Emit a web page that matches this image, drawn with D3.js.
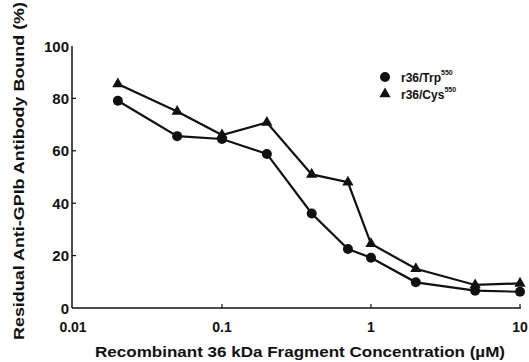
<!DOCTYPE html>
<html><head><meta charset="utf-8">
<script src="https://cdn.jsdelivr.net/npm/d3@7"></script>
<style>body{margin:0;background:#fff}svg{display:block}text{font-family:"Liberation Sans",Arial,sans-serif;font-weight:bold;fill:#111}</style>
</head><body><div id="c"></div>
<script>
const concentrations = [0.02, 0.05, 0.1, 0.2, 0.4, 0.7, 1, 2, 5, 10];
const trpValues = [79.1, 65.6, 64.5, 58.8, 36.1, 22.5, 19.2, 9.8, 6.6, 6.2];
const cysValues = [85.5, 75, 66, 70.8, 51, 48, 24.5, 15, 8.8, 9.4];
const xTicks = [0.01, 0.1, 1, 10];
const xTickLabels = ["0.01", "0.1", "1", "10"];
const yTicks = [0, 20, 40, 60, 80, 100];
const seriesNames = ["r36/Trp", "r36/Cys"];
const superscript = "550";

const W = 529, H = 362;
const svg = d3.select("#c").append("svg").attr("width", W).attr("height", H);
const x = d3.scaleLog().domain([0.01, 10]).range([73, 520]);
const y = d3.scaleLinear().domain([0, 100]).range([308, 46]);

// axes
svg.append("line").attr("x1", x(0.01)-1).attr("x2", x(10)+1).attr("y1", y(0)).attr("y2", y(0)).attr("stroke", "#111").attr("stroke-width", 1.5);
svg.append("line").attr("x1", x(0.01)-1).attr("x2", x(0.01)-1).attr("y1", y(0)).attr("y2", y(100)).attr("stroke", "#111").attr("stroke-width", 1.5);
xTicks.forEach((t, i) => {
  if (i > 0) svg.append("line").attr("x1", x(t)).attr("x2", x(t)).attr("y1", y(0)).attr("y2", y(0)-4).attr("stroke", "#111").attr("stroke-width", 1.2);
  svg.append("text").attr("x", x(t)).attr("y", 332).attr("text-anchor", "middle").attr("font-size", 14).text(xTickLabels[i]);
});
yTicks.forEach(t => {
  if (t > 0 && t < 100) svg.append("line").attr("x1", x(0.01)-1).attr("x2", x(0.01)+3).attr("y1", y(t)).attr("y2", y(t)).attr("stroke", "#111").attr("stroke-width", 1.2);
  svg.append("text").attr("x", 69).attr("y", y(t) + 5.5).attr("text-anchor", "end").attr("font-size", 15).text(t);
});

// titles
svg.append("text").attr("x", 300).attr("y", 357).attr("text-anchor", "middle").attr("font-size", 14)
  .attr("textLength", 410).attr("lengthAdjust", "spacingAndGlyphs").text("Recombinant 36 kDa Fragment Concentration (\u00b5M)");
svg.append("text").attr("transform", "translate(24,171) rotate(-90)").attr("text-anchor", "middle").attr("font-size", 15)
  .attr("textLength", 338).attr("lengthAdjust", "spacingAndGlyphs").text("Residual Anti-GPIb Antibody Bound (%)");

// lines
const line = d3.line().x(d => x(d[0])).y(d => y(d[1]));
const trp = concentrations.map((c, i) => [c, trpValues[i]]);
const cys = concentrations.map((c, i) => [c, cysValues[i]]);
[trp, cys].forEach(data => svg.append("path").datum(data).attr("d", line).attr("fill", "none").attr("stroke", "#111").attr("stroke-width", 2.2));
svg.selectAll(".dot").data(trp).join("circle").attr("cx", d => x(d[0])).attr("cy", d => y(d[1])).attr("r", 5).attr("fill", "#111");
const tri = d3.symbol().type(d3.symbolTriangle).size(55);
svg.selectAll(".tri").data(cys).join("path").attr("d", tri).attr("transform", d => `translate(${x(d[0])},${y(d[1])})`).attr("fill", "#111");

// legend
svg.append("circle").attr("cx", 385).attr("cy", 77).attr("r", 5).attr("fill", "#111");
svg.append("path").attr("d", tri).attr("transform", "translate(385,94)").attr("fill", "#111");
[[seriesNames[0], 82], [seriesNames[1], 99]].forEach(([n, yy]) => {
  const t = svg.append("text").attr("x", 401).attr("y", yy).attr("font-size", 12).text(n);
  t.append("tspan").attr("dy", -7).attr("font-size", 7).text(superscript);
});
</script></body></html>
